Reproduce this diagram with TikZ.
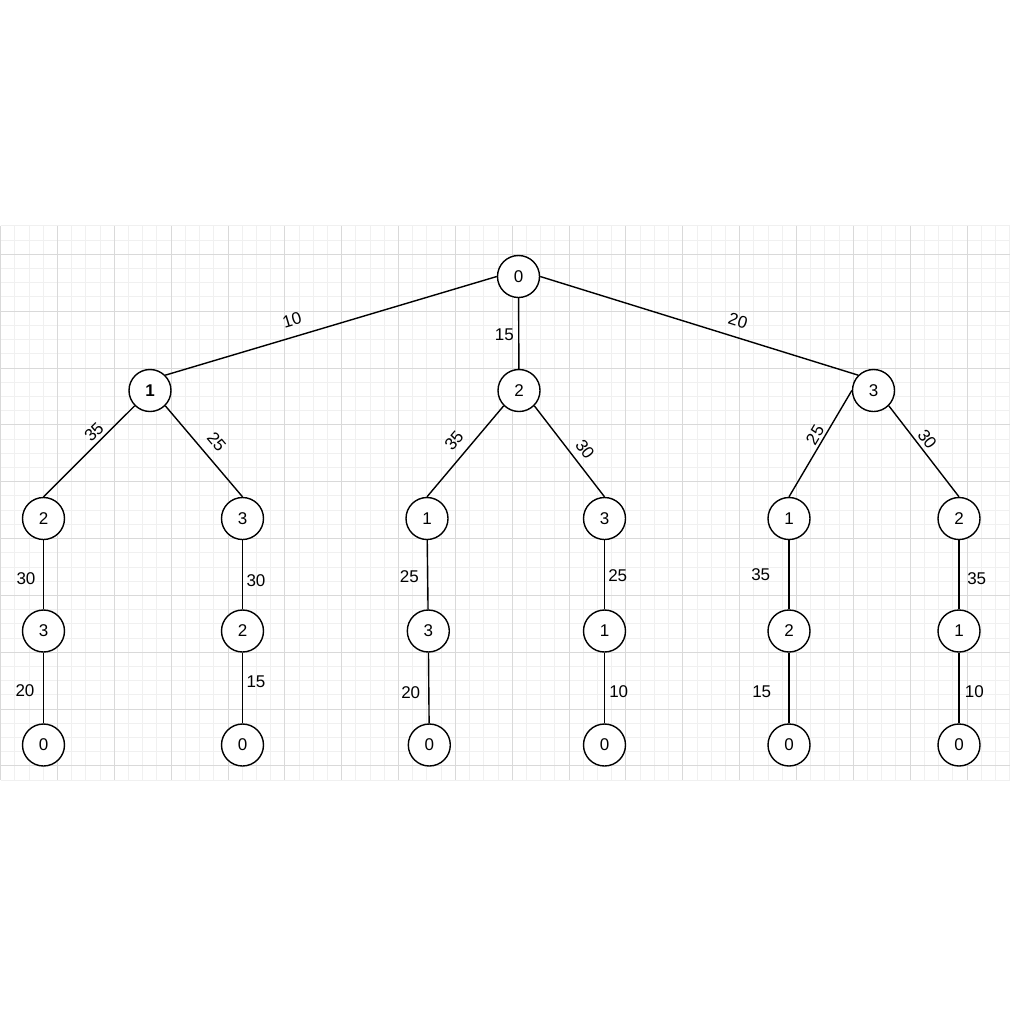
\documentclass[tikz,border=0pt]{standalone}
\usepackage{fontspec}
\setmainfont{Liberation Sans}
\definecolor{gridminor}{RGB}{240,240,240}
\definecolor{gridmajor}{RGB}{217,217,217}
\begin{document}
\begin{tikzpicture}[x=1pt,y=-1pt,
  vertex/.style={circle,draw=black,line width=1.4pt,fill=white,minimum size=42pt,inner sep=0pt,
    font=\fontsize{17}{20}\selectfont},
  edge/.style={line width=1.4pt,black},
  lbl/.style={inner sep=0pt,font=\fontsize{17}{20}\selectfont},
  gminor/.style={gridminor,line width=1pt},
  gmajor/.style={gridmajor,line width=1pt}]
\useasboundingbox (0,0) rectangle (1020,1020);
\fill[white] (0,0) rectangle (1020,1020);
% background grid: fine lines, every fourth one darker
\foreach \k in {0,...,71}
  \draw[gminor] ({0.6+14.2125*\k},225.9) -- ({0.6+14.2125*\k},780.2);
\foreach \j in {0,...,39}
  \draw[gminor] (0.6,{225.9+14.2125*\j}) -- (1009.7,{225.9+14.2125*\j});
\foreach \k in {0,4,...,68}
  \draw[gmajor] ({0.6+14.2125*\k},225.9) -- ({0.6+14.2125*\k},780.2);
\foreach \j in {2,6,...,38}
  \draw[gmajor] (0.6,{225.9+14.2125*\j}) -- (1009.7,{225.9+14.2125*\j});

% root
\node[vertex] (n0) at (518.5,276.5) {0};
% first level
\node[vertex] (a1) at (150,390.5) {\textbf{1}};
\node[vertex] (a2) at (519,390.5) {2};
\node[vertex] (a3) at (873.5,390.5) {3};
% second level
\node[vertex] (b1) at (43.5,518.5) {2};
\node[vertex] (b2) at (242.5,518.5) {3};
\node[vertex] (b3) at (427,518.5) {1};
\node[vertex] (b4) at (604.5,518.5) {3};
\node[vertex] (b5) at (789,518.5) {1};
\node[vertex] (b6) at (959,518.5) {2};
% third level
\node[vertex] (c1) at (43.5,631) {3};
\node[vertex] (c2) at (242.5,631) {2};
\node[vertex] (c3) at (428.3,631) {3};
\node[vertex] (c4) at (604.5,631) {1};
\node[vertex] (c5) at (789,631) {2};
\node[vertex] (c6) at (959,631) {1};
% back to the start
\node[vertex] (d1) at (43.5,745) {0};
\node[vertex] (d2) at (242.5,745) {0};
\node[vertex] (d3) at (429.3,745) {0};
\node[vertex] (d4) at (604.5,745) {0};
\node[vertex] (d5) at (789,745) {0};
\node[vertex] (d6) at (959,745) {0};

% connectors
\draw[edge] (n0.west) -- (a1.45);
\draw[edge] (n0) -- (a2);
\draw[edge] (n0.east) -- (a3.135);
\draw[edge] (a1.south west) -- (b1.north);
\draw[edge] (a1.south east) -- (b2.north);
\draw[edge] (a2.south west) -- (b3.north);
\draw[edge] (a2.south east) -- (b4.north);
\draw[edge] (a3.west) -- (b5.north);
\draw[edge] (a3.south east) -- (b6.north);
\foreach \u/\v in {b1/c1,b2/c2,b3/c3,b4/c4,b5/c5,b6/c6,c1/d1,c2/d2,c3/d3,c4/d4,c5/d5,c6/d6}
  \draw[edge] (\u) -- (\v);

% edge weights
\node[lbl,rotate=16.6] (w01) at (292,320) {10};
\node[lbl] (w02) at (504.3,334.3) {15};
\node[lbl,rotate=-17.2] (w03) at (738,320.7) {20};
\node[lbl,rotate=45] (w11) at (94,432) {35};
\node[lbl,rotate=-49.7] (w12) at (216.7,441.7) {25};
\node[lbl,rotate=49.5] (w21) at (454,440.7) {35};
\node[lbl,rotate=-53.3] (w22) at (585,449.3) {30};
\node[lbl,rotate=59.4] (w31) at (815,435) {25};
\node[lbl,rotate=-52.6] (w32) at (927.3,439.3) {30};
\node[lbl] (v1a) at (26,579) {30};
\node[lbl] (v1b) at (25,690.7) {20};
\node[lbl] (v2a) at (256,581) {30};
\node[lbl] (v2b) at (256,681.7) {15};
\node[lbl] (v3a) at (409.3,576.7) {25};
\node[lbl] (v3b) at (410.7,692.7) {20};
\node[lbl] (v4a) at (617.7,575.7) {25};
\node[lbl] (v4b) at (618.7,691.7) {10};
\node[lbl] (v5a) at (760.7,575) {35};
\node[lbl] (v5b) at (761.7,691.7) {15};
\node[lbl] (v6a) at (976.7,578.3) {35};
\node[lbl] (v6b) at (974.3,691.7) {10};
\end{tikzpicture}
\end{document}
